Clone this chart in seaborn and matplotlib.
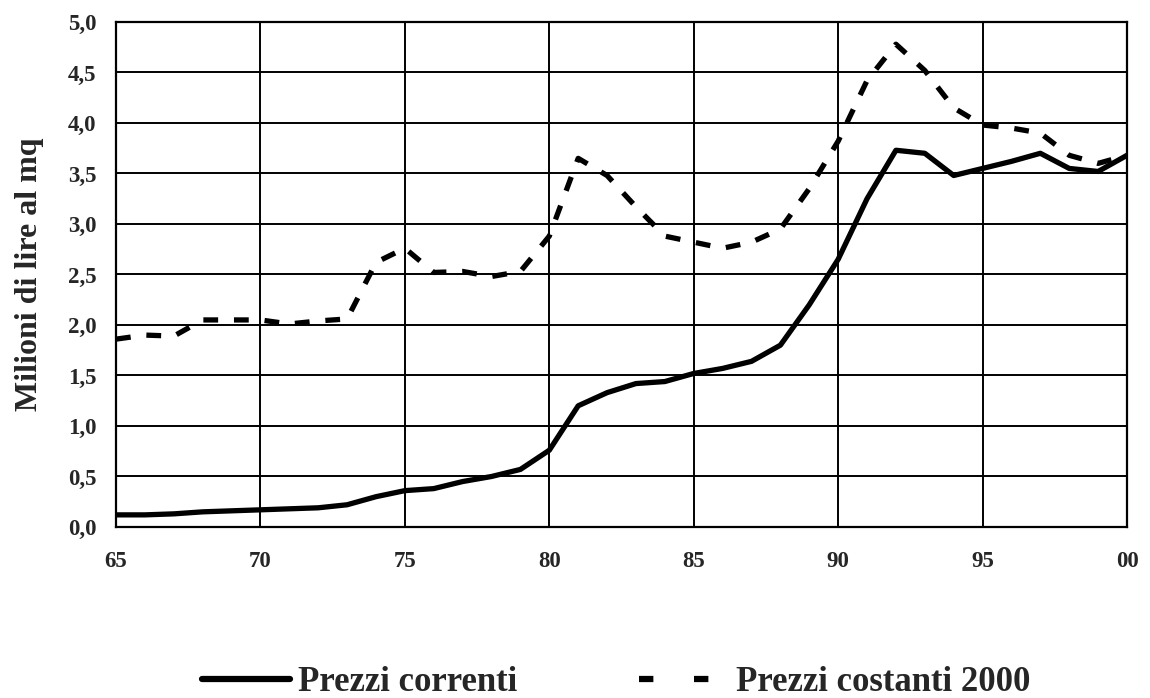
import numpy as np
import pandas as pd
import matplotlib
matplotlib.use("Agg")
import matplotlib.pyplot as plt
from matplotlib.lines import Line2D
import seaborn as sns

# dati (anni 1965-2000)
anni = list(range(1965, 2001))
prezzi_correnti = [0.12, 0.12, 0.13, 0.15, 0.16, 0.17, 0.18, 0.19, 0.22, 0.30,
                   0.36, 0.38, 0.45, 0.50, 0.57, 0.76, 1.20, 1.33, 1.42, 1.44,
                   1.52, 1.57, 1.64, 1.80, 2.20, 2.65, 3.25, 3.73, 3.70, 3.48,
                   3.55, 3.62, 3.70, 3.55, 3.52, 3.68]
prezzi_costanti = [1.86, 1.90, 1.89, 2.05, 2.05, 2.05, 2.01, 2.04, 2.06, 2.62,
                   2.76, 2.52, 2.53, 2.48, 2.53, 2.88, 3.65, 3.48, 3.17, 2.88,
                   2.82, 2.76, 2.82, 2.95, 3.35, 3.82, 4.42, 4.78, 4.52, 4.15,
                   3.98, 3.95, 3.90, 3.68, 3.60, 3.68]
xtick_lab = ["65", "70", "75", "80", "85", "90", "95", "00"]
ytick_lab = ["0,0", "0,5", "1,0", "1,5", "2,0", "2,5", "3,0", "3,5", "4,0", "4,5", "5,0"]

df = pd.DataFrame({"anno": anni * 2,
                   "valore": prezzi_correnti + prezzi_costanti,
                   "serie": ["Prezzi correnti"] * len(anni) + ["Prezzi costanti 2000"] * len(anni)})

sns.set_style("white")
plt.rcParams['font.family'] = ['Liberation Serif', 'DejaVu Serif']
plt.rcParams['font.weight'] = 'bold'

fig = plt.figure(figsize=(11.5, 6.98), dpi=100)
ax = fig.add_axes([0.1009, 0.245, 0.8791, 0.7235])

sns.lineplot(data=df, x="anno", y="valore", hue="serie", style="serie",
             palette=["black", "black"], dashes=[(), (2.8, 3.0)],
             linewidth=3.8, ax=ax, legend=False)

ax.set_xlim(1965, 2000)
ax.set_ylim(0, 5)
ax.set_xticks(range(1965, 2001, 5))
ax.set_xticklabels(xtick_lab, fontsize=16.5, fontweight='bold')
ax.set_yticks(np.arange(0, 5.01, 0.5))
ax.set_yticklabels(ytick_lab, fontsize=16.5, fontweight='bold')
ax.tick_params(axis='y', direction='inout', length=8, width=1.4, color='black', pad=10)
ax.tick_params(axis='x', length=0, pad=17)
ax.grid(True, color='black', linewidth=1.4)
for s in ax.spines.values():
    s.set_color('black')
    s.set_linewidth(1.6)
ax.set_xlabel("")
ax.set_ylabel("Milioni di lire al mq", fontsize=23, fontweight='bold', labelpad=17)

# legenda in basso
handles = [Line2D([], [], color='black', linewidth=4.5),
           Line2D([], [], color='black', linewidth=4.5, dashes=(2.3, 6.5))]
fig.legend(handles, ["Prezzi correnti", "Prezzi costanti 2000"], loc='center',
           bbox_to_anchor=(0.5357, 0.0215), ncol=2, frameon=False, handlelength=2.54,
           handletextpad=0.25, columnspacing=3.5, borderpad=0,
           prop={'size': 25, 'weight': 'bold'})

fig.savefig("out.png", dpi=100)
